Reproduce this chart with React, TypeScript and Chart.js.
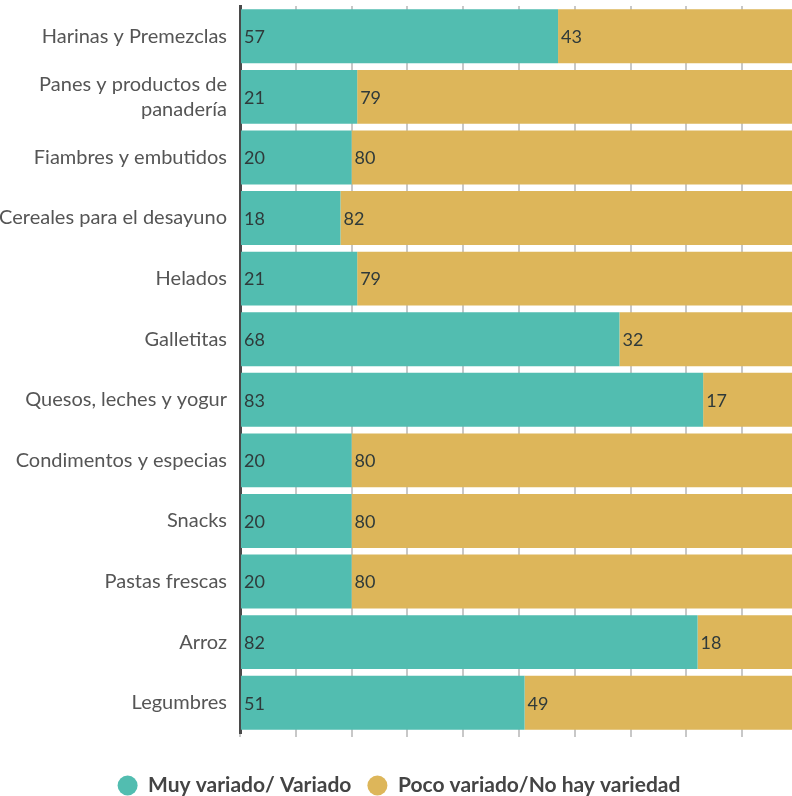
import React, { useEffect, useRef } from "react";
import { Chart, registerables } from "chart.js";

Chart.register(...registerables);

const categories: (string | string[])[] = [
  "Harinas y Premezclas",
  ["Panes y productos de", "panadería"],
  "Fiambres y embutidos",
  "Cereales para el desayuno",
  "Helados",
  "Galletitas",
  "Quesos, leches y yogur",
  "Condimentos y especias",
  "Snacks",
  "Pastas frescas",
  "Arroz",
  "Legumbres",
];
const variado = [57, 21, 20, 18, 21, 68, 83, 20, 20, 20, 82, 51];
const pocoVariado = [43, 79, 80, 82, 79, 32, 17, 80, 80, 80, 18, 49];
const seriesNames = ["Muy variado/ Variado", "Poco variado/No hay variedad"];
const seriesColors = ["#52BDB0", "#DDB65A"];
const xMin = 0;
const xMax = 100;
const xStep = 10;

const FONT = "Lato, 'Open Sans', sans-serif";

const valueLabels = {
  id: "valueLabels",
  afterDatasetsDraw(chart: any) {
    const ctx = chart.ctx;
    ctx.save();
    ctx.font = `18px ${FONT}`;
    ctx.fillStyle = "#2f3a3a";
    ctx.textBaseline = "middle";
    ctx.textAlign = "left";
    chart.data.datasets.forEach((ds: any, i: number) => {
      const meta = chart.getDatasetMeta(i);
      meta.data.forEach((el: any, j: number) => {
        const { x, y, base } = el.getProps(["x", "y", "base"], true);
        ctx.fillText(String(ds.data[j]), Math.min(x, base) + 3, y + 1);
      });
    });
    ctx.restore();
  },
};

export default function App() {
  const ref = useRef<HTMLCanvasElement | null>(null);

  useEffect(() => {
    if (!ref.current) return;
    const chart = new Chart(ref.current, {
      type: "bar",
      data: {
        labels: categories as any,
        datasets: [
          {
            label: seriesNames[0],
            data: variado,
            backgroundColor: seriesColors[0],
            barPercentage: 0.89,
            categoryPercentage: 1,
          },
          {
            label: seriesNames[1],
            data: pocoVariado,
            backgroundColor: seriesColors[1],
            barPercentage: 0.89,
            categoryPercentage: 1,
          },
        ],
      },
      options: {
        indexAxis: "y",
        responsive: false,
        animation: false,
        layout: { padding: { left: 0, right: 2, top: 6, bottom: 0 } },
        scales: {
          x: {
            stacked: true,
            min: xMin,
            max: xMax,
            ticks: { display: false, stepSize: xStep },
            grid: { color: "#c8c8c8", lineWidth: 2, tickLength: 4, drawTicks: true },
            border: { display: false },
            afterFit: (s: any) => {
              s.height = 26;
              s.paddingLeft = 0;
              s.paddingRight = 0;
            },
          },
          y: {
            stacked: true,
            grid: { display: false, drawTicks: false },
            border: { display: true, color: "#4a4a4a", width: 3 },
            ticks: {
              color: "#555555",
              padding: 13,
              font: { size: 20, family: FONT, lineHeight: 1.25 },
            },
            afterFit: (s: any) => {
              s.width = 240;
              s.paddingTop = 0;
              s.paddingBottom = 0;
            },
          },
        },
        plugins: {
          legend: {
            position: "bottom",
            labels: {
              usePointStyle: true,
              pointStyle: "circle",
              boxHeight: 14,
              pointStyleWidth: 20,
              padding: 16,
              color: "#444444",
              font: { size: 21, weight: "bold", family: FONT },
            },
          },
          tooltip: { enabled: false },
        },
      },
      plugins: [valueLabels],
    });
    return () => chart.destroy();
  }, []);

  return (
    <div
      style={{
        position: "fixed",
        left: 0,
        top: 0,
        width: 792,
        height: 796,
        overflow: "hidden",
        background: "#ffffff",
      }}
    >
      <canvas ref={ref} width={800} height={806} style={{ display: "block" }} />
    </div>
  );
}
